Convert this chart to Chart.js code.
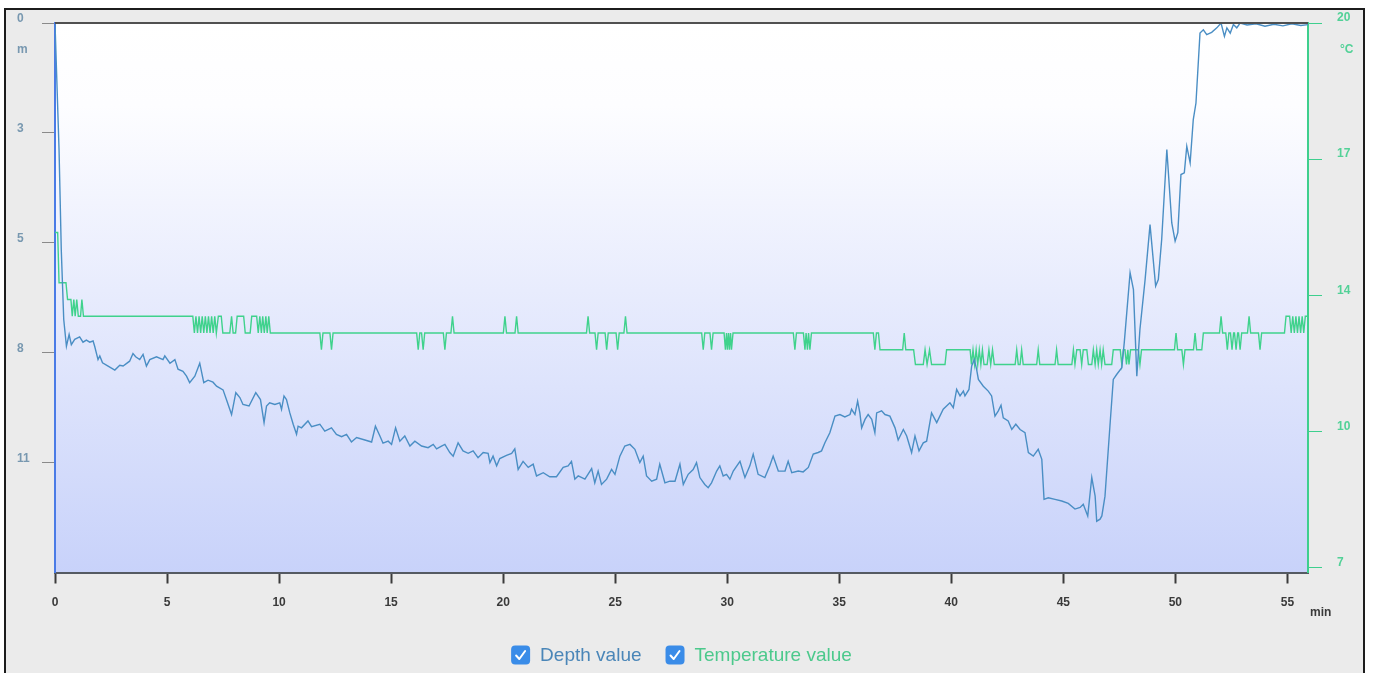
<!DOCTYPE html>
<html>
<head>
<meta charset="utf-8">
<title>Dive profile</title>
<script src="https://cdn.jsdelivr.net/npm/chart.js@4.4.1/dist/chart.umd.min.js"></script>
<style>
  html, body { margin: 0; padding: 0; background: #ffffff; width: 1375px; height: 673px; overflow: hidden; }
  #frame { position: absolute; left: 4px; top: 8px; width: 1357px; height: 700px; border: 2px solid #1c1c1c; background: #ebebeb; }
  #wrap { position: absolute; left: 0; top: 0; width: 1375px; height: 673px; }
</style>
</head>
<body>
<div id="frame"></div>
<div id="wrap"><canvas id="dive" width="1375" height="673"></canvas></div>
<script>
// Dive log: elapsed time (min) against depth (m) and water temperature (°C)
const depthMinutes = [
  0, 0.18, 0.28, 0.39, 0.51, 0.63, 0.73, 0.88, 1.10, 1.25,
  1.40, 1.55, 1.70, 1.77, 1.92, 2.00, 2.12, 2.37, 2.67, 2.89,
  3.04, 3.33, 3.48, 3.60, 3.78, 3.93, 4.08, 4.23, 4.53, 4.82,
  4.90, 5.13, 5.35, 5.49, 5.71, 5.87, 6.01, 6.24, 6.46, 6.64,
  6.83, 7.05, 7.21, 7.50, 7.65, 7.88, 8.07, 8.25, 8.39, 8.66,
  8.96, 9.17, 9.33, 9.44, 9.58, 9.81, 10.03, 10.11, 10.22, 10.33,
  10.48, 10.63, 10.78, 10.85, 11.00, 11.29, 11.45, 11.82, 12.04, 12.34,
  12.56, 12.79, 13.01, 13.23, 13.46, 13.83, 14.13, 14.30, 14.50, 14.64,
  14.87, 15.02, 15.20, 15.39, 15.61, 15.84, 16.06, 16.36, 16.65, 16.88,
  17.03, 17.25, 17.40, 17.62, 17.77, 17.99, 18.21, 18.44, 18.66, 18.88,
  19.11, 19.33, 19.41, 19.55, 19.71, 19.85, 20.15, 20.38, 20.52, 20.67,
  20.89, 21.12, 21.34, 21.49, 21.79, 22.08, 22.38, 22.68, 22.90, 23.05,
  23.20, 23.35, 23.65, 23.95, 24.09, 24.24, 24.39, 24.62, 24.84, 24.99,
  25.21, 25.43, 25.66, 25.88, 26.10, 26.25, 26.40, 26.63, 26.85, 26.99,
  27.22, 27.44, 27.67, 27.89, 28.04, 28.26, 28.48, 28.63, 28.78, 29.00,
  29.15, 29.30, 29.53, 29.67, 29.82, 29.97, 30.12, 30.27, 30.57, 30.79,
  31.01, 31.16, 31.38, 31.68, 31.90, 32.05, 32.28, 32.58, 32.72, 32.88,
  33.17, 33.39, 33.62, 33.84, 34.06, 34.21, 34.36, 34.58, 34.81, 35.03,
  35.25, 35.48, 35.55, 35.70, 35.82, 35.92, 36.00, 36.15, 36.29, 36.45,
  36.59, 36.67, 36.89, 37.04, 37.26, 37.49, 37.63, 37.86, 38.01, 38.23,
  38.38, 38.56, 38.75, 38.90, 39.12, 39.35, 39.64, 39.94, 40.09, 40.24,
  40.39, 40.54, 40.61, 40.79, 40.91, 41.03, 41.13, 41.21, 41.43, 41.65,
  41.80, 41.95, 42.10, 42.22, 42.32, 42.54, 42.70, 42.88, 43.07, 43.29,
  43.44, 43.66, 43.88, 44.04, 44.14, 44.33, 44.63, 44.93, 45.22, 45.52,
  45.75, 45.89, 46.09, 46.27, 46.42, 46.49, 46.64, 46.72, 46.86, 47.08,
  47.23, 47.38, 47.61, 47.72, 47.98, 48.13, 48.28, 48.42, 48.65, 48.87,
  49.12, 49.24, 49.39, 49.62, 49.84, 49.99, 50.11, 50.25, 50.40, 50.51,
  50.66, 50.80, 50.92, 51.10, 51.25, 51.40, 51.62, 51.85, 52.04, 52.19,
  52.30, 52.45, 52.59, 52.74, 52.89, 53.20, 53.60, 54.00, 54.40, 54.80,
  55.20, 55.60, 55.92
];
const depthMetres = [
  0, 3.13, 5.61, 7.34, 8.00, 7.71, 7.96, 7.83, 7.77, 7.90,
  7.85, 7.90, 7.87, 8.00, 8.33, 8.24, 8.41, 8.49, 8.59, 8.47,
  8.49, 8.37, 8.18, 8.26, 8.33, 8.20, 8.49, 8.33, 8.26, 8.33,
  8.24, 8.42, 8.33, 8.57, 8.62, 8.74, 8.90, 8.74, 8.42, 8.90,
  8.84, 8.89, 8.99, 9.08, 9.32, 9.69, 9.15, 9.27, 9.44, 9.48,
  9.15, 9.32, 9.89, 9.48, 9.40, 9.44, 9.40, 9.56, 9.23, 9.32,
  9.65, 9.93, 10.18, 9.98, 10.02, 9.85, 9.99, 9.93, 10.10, 10.02,
  10.18, 10.24, 10.18, 10.37, 10.26, 10.32, 10.37, 9.98, 10.22, 10.40,
  10.35, 10.43, 10.02, 10.35, 10.22, 10.47, 10.35, 10.47, 10.51, 10.43,
  10.54, 10.47, 10.43, 10.63, 10.72, 10.39, 10.59, 10.65, 10.59, 10.76,
  10.63, 10.65, 10.88, 10.72, 10.96, 10.78, 10.70, 10.65, 10.54, 11.05,
  10.85, 11.00, 10.92, 11.21, 11.13, 11.23, 11.23, 11.00, 10.96, 10.85,
  11.29, 11.21, 11.29, 11.03, 11.38, 11.09, 11.42, 11.29, 11.05, 11.17,
  10.72, 10.47, 10.43, 10.55, 10.88, 10.72, 11.21, 11.34, 11.29, 10.92,
  11.38, 11.34, 11.34, 10.92, 11.42, 11.17, 11.05, 10.88, 11.25, 11.42,
  11.50, 11.38, 11.09, 10.96, 11.21, 11.17, 11.29, 11.09, 10.85, 11.25,
  10.96, 10.67, 11.17, 11.25, 10.96, 10.72, 11.09, 11.09, 10.85, 11.13,
  11.09, 11.11, 11.00, 10.67, 10.63, 10.59, 10.39, 10.14, 9.73, 9.69,
  9.75, 9.69, 9.56, 9.69, 9.36, 9.65, 10.02, 9.81, 9.69, 9.81,
  10.14, 9.65, 9.60, 9.69, 9.73, 10.02, 10.32, 10.06, 10.22, 10.63,
  10.22, 10.59, 10.39, 10.35, 9.65, 9.89, 9.56, 9.40, 9.52, 9.07,
  9.23, 9.11, 9.23, 9.07, 8.49, 8.33, 8.57, 8.82, 8.99, 9.11,
  9.23, 9.73, 9.60, 9.46, 9.77, 9.85, 10.06, 9.93, 10.06, 10.14,
  10.63, 10.72, 10.55, 10.80, 11.79, 11.75, 11.79, 11.83, 11.89, 12.03,
  11.99, 11.91, 12.20, 11.25, 11.71, 12.33, 12.28, 12.20, 11.71, 9.98,
  8.82, 8.70, 8.53, 7.91, 6.18, 6.60, 8.74, 7.58, 6.35, 4.99,
  6.51, 6.35, 5.36, 3.13, 4.95, 5.40, 5.19, 3.75, 3.71, 3.05,
  3.46, 2.39, 1.98, 0.25, 0.17, 0.29, 0.23, 0.12, 0.00, 0.33,
  0.12, 0.25, 0.04, 0.12, 0.00, 0.05, 0.02, 0.08, 0.03, 0.07,
  0.02, 0.06, 0.04
];

const tempMinutes = [
  0, 0.12, 0.18, 0.49, 0.56, 0.71, 0.77, 0.84, 0.90, 0.97,
  1.04, 1.14, 1.20, 1.27, 6.15, 6.22, 6.29, 6.36, 6.43, 6.50,
  6.57, 6.64, 6.71, 6.78, 6.85, 6.92, 6.99, 7.06, 7.13, 7.20,
  7.29, 7.42, 7.49, 7.80, 7.88, 7.95, 8.06, 8.13, 8.42, 8.49,
  8.71, 8.78, 9.00, 9.07, 9.14, 9.21, 9.27, 9.34, 9.41, 9.47,
  9.54, 9.61, 11.82, 11.89, 11.96, 12.27, 12.34, 12.41, 16.14, 16.21,
  16.28, 16.36, 16.43, 16.50, 17.33, 17.40, 17.47, 17.67, 17.74, 17.81,
  20.01, 20.08, 20.15, 20.53, 20.60, 20.67, 23.72, 23.79, 23.86, 24.10,
  24.17, 24.24, 24.55, 24.62, 24.69, 25.04, 25.11, 25.18, 25.39, 25.46,
  25.53, 28.86, 28.93, 29.00, 29.23, 29.30, 29.37, 29.86, 29.92, 29.97,
  30.01, 30.06, 30.10, 30.15, 30.19, 30.26, 32.95, 33.02, 33.09, 33.40,
  33.47, 33.52, 33.58, 33.63, 33.69, 33.76, 36.52, 36.59, 36.66, 36.75,
  36.82, 37.83, 37.90, 37.97, 38.32, 38.40, 38.75, 38.83, 38.92, 39.03,
  39.12, 39.72, 39.79, 40.84, 40.90, 40.97, 41.04, 41.11, 41.18, 41.25,
  41.32, 41.39, 41.46, 41.60, 41.68, 41.76, 41.84, 41.92, 42.85, 42.92,
  42.99, 43.07, 43.14, 43.21, 43.81, 43.88, 43.95, 44.63, 44.70, 44.77,
  45.38, 45.45, 45.52, 45.60, 45.75, 45.82, 45.89, 46.05, 46.12, 46.27,
  46.34, 46.42, 46.49, 46.56, 46.64, 46.71, 46.78, 46.86, 47.16, 47.23,
  47.54, 47.61, 47.68, 47.75, 47.82, 47.88, 47.93, 48.00, 48.35, 48.42,
  48.49, 49.96, 50.03, 50.10, 50.29, 50.36, 50.43, 50.81, 50.88, 50.95,
  51.18, 51.25, 51.97, 52.04, 52.11, 52.25, 52.32, 52.39, 52.46, 52.53,
  52.60, 52.64, 52.71, 52.78, 52.82, 52.89, 52.96, 53.22, 53.29, 53.36,
  53.71, 53.78, 53.85, 54.87, 54.94, 55.10, 55.17, 55.24, 55.31, 55.38,
  55.45, 55.52, 55.59, 55.66, 55.73, 55.80, 55.92
];
const tempCelsius = [
  15.0, 15.0, 13.8, 13.8, 13.4, 13.4, 13.0, 13.4, 13.0, 13.4,
  13.0, 13.0, 13.4, 13.0, 13.0, 12.6, 13.0, 12.6, 13.0, 12.6,
  13.0, 12.6, 13.0, 12.6, 13.0, 12.6, 13.0, 12.6, 13.0, 12.6,
  13.0, 13.0, 12.6, 12.6, 13.0, 12.6, 12.6, 13.0, 13.0, 12.6,
  12.6, 13.0, 13.0, 12.6, 13.0, 12.6, 13.0, 12.6, 13.0, 12.6,
  13.0, 12.6, 12.6, 12.2, 12.6, 12.6, 12.2, 12.6, 12.6, 12.2,
  12.6, 12.6, 12.2, 12.6, 12.6, 12.2, 12.6, 12.6, 13.0, 12.6,
  12.6, 13.0, 12.6, 12.6, 13.0, 12.6, 12.6, 13.0, 12.6, 12.6,
  12.2, 12.6, 12.6, 12.2, 12.6, 12.6, 12.2, 12.6, 12.6, 13.0,
  12.6, 12.6, 12.2, 12.6, 12.6, 12.2, 12.6, 12.6, 12.2, 12.6,
  12.2, 12.6, 12.2, 12.6, 12.2, 12.6, 12.6, 12.2, 12.6, 12.6,
  12.2, 12.6, 12.2, 12.6, 12.2, 12.6, 12.6, 12.2, 12.6, 12.6,
  12.2, 12.2, 12.6, 12.2, 12.2, 11.85, 11.85, 12.2, 11.85, 12.2,
  11.85, 11.85, 12.2, 12.2, 11.85, 12.2, 11.85, 12.2, 11.85, 12.2,
  11.85, 12.2, 11.85, 11.85, 12.2, 11.85, 12.2, 11.85, 11.85, 12.2,
  11.85, 11.85, 12.2, 11.85, 11.85, 12.2, 11.85, 11.85, 12.2, 11.85,
  11.85, 12.2, 11.85, 12.2, 12.2, 11.85, 12.2, 12.2, 11.85, 11.85,
  12.2, 11.85, 12.2, 11.85, 12.2, 11.85, 12.2, 11.85, 11.85, 12.2,
  12.2, 11.85, 12.2, 12.2, 11.85, 12.2, 11.85, 12.2, 12.2, 11.85,
  12.2, 12.2, 12.6, 12.2, 12.2, 11.85, 12.2, 12.2, 12.6, 12.2,
  12.2, 12.6, 12.6, 13.0, 12.6, 12.6, 12.2, 12.6, 12.6, 12.2,
  12.6, 12.6, 12.2, 12.6, 12.6, 12.2, 12.6, 12.6, 13.0, 12.6,
  12.6, 12.2, 12.6, 12.6, 13.0, 13.0, 12.6, 13.0, 12.6, 13.0,
  12.6, 13.0, 12.6, 13.0, 12.6, 13.0, 13.0
];

// Axis ticks and their printed labels
const minuteTicks = [0, 5, 10, 15, 20, 25, 30, 35, 40, 45, 50, 55];
const depthTickValues = [0, 2.72, 5.44, 8.16, 10.88];
const depthTickLabels = ['0', '3', '5', '8', '11'];
const tempTickValues = [20, 16.75, 13.5, 10.25, 7];
const tempTickLabels = ['20', '17', '14', '10', '7'];
const seriesNames = ['Depth value', 'Temperature value'];
const unitNames = { depth: 'm', temp: '°C', time: 'min' };

const FONT = 'Liberation Sans, Arial, Helvetica, sans-serif';
const DEPTH_COLOR = '#4a8ec4';
const TEMP_COLOR = '#3fd28c';

Chart.defaults.font.family = FONT;

const toPoints = (xs, ys) => xs.map((x, i) => ({ x: x, y: ys[i] }));

// Plot background, top rule, unit captions and the check-box legend
const diveDecor = {
  id: 'diveDecor',
  beforeDraw(chart) {
    const { ctx, chartArea: a } = chart;
    const g = ctx.createLinearGradient(0, a.top, 0, a.bottom);
    g.addColorStop(0, '#ffffff');
    g.addColorStop(0.15, '#fdfdff');
    g.addColorStop(1, '#c8d2fa');
    ctx.save();
    ctx.fillStyle = g;
    ctx.fillRect(a.left, a.top, a.right - a.left, a.bottom - a.top);
    ctx.restore();
  },
  afterDraw(chart) {
    const { ctx, chartArea: a } = chart;
    ctx.save();
    // top rule of the plot frame
    ctx.strokeStyle = '#505050';
    ctx.lineWidth = 2;
    ctx.beginPath();
    ctx.moveTo(a.left, a.top);
    ctx.lineTo(a.right, a.top);
    ctx.stroke();

    // unit captions
    ctx.font = 'bold 12px ' + FONT;
    ctx.textBaseline = 'middle';
    ctx.textAlign = 'left';
    ctx.fillStyle = '#7898b0';
    ctx.fillText(unitNames.depth, 17, 50);
    ctx.fillStyle = '#52d197';
    ctx.fillText(unitNames.temp, 1340, 50);
    ctx.fillStyle = '#3a3a3a';
    ctx.fillText(unitNames.time, 1310, 613);

    // legend with ticked boxes
    const colors = [DEPTH_COLOR, TEMP_COLOR];
    const textColors = ['#4a86b8', '#4cc98c'];
    ctx.font = '19px ' + FONT;
    const box = 19, gap = 10, spacing = 24;
    const widths = seriesNames.map(n => ctx.measureText(n).width);
    const total = widths.reduce((s, w) => s + box + gap + w, 0) + spacing * (seriesNames.length - 1);
    let x = (a.left + a.right) / 2 - total / 2;
    const cy = 655;
    seriesNames.forEach((name, i) => {
      const by = cy - box / 2;
      ctx.fillStyle = '#3a8ce8';
      ctx.beginPath();
      ctx.roundRect(x, by, box, box, 4);
      ctx.fill();
      ctx.strokeStyle = '#ffffff';
      ctx.lineWidth = 2;
      ctx.lineCap = 'round';
      ctx.lineJoin = 'round';
      ctx.beginPath();
      ctx.moveTo(x + 5, by + 10);
      ctx.lineTo(x + 8.2, by + 13.5);
      ctx.lineTo(x + 14, by + 5.5);
      ctx.stroke();
      ctx.fillStyle = textColors[i];
      ctx.textAlign = 'left';
      ctx.textBaseline = 'middle';
      ctx.fillText(name, x + box + gap, cy + 1);
      x += box + gap + widths[i] + spacing;
    });
    ctx.restore();
  }
};

new Chart(document.getElementById('dive'), {
  type: 'line',
  data: {
    datasets: [
      {
        label: seriesNames[0],
        data: toPoints(depthMinutes, depthMetres),
        yAxisID: 'yDepth',
        borderColor: DEPTH_COLOR,
        borderWidth: 1.4,
        pointRadius: 0,
        tension: 0,
        fill: false
      },
      {
        label: seriesNames[1],
        data: toPoints(tempMinutes, tempCelsius),
        yAxisID: 'yTemp',
        borderColor: TEMP_COLOR,
        borderWidth: 1.4,
        pointRadius: 0,
        tension: 0,
        fill: false
      }
    ]
  },
  options: {
    responsive: false,
    animation: false,
    devicePixelRatio: 1,
    layout: { padding: { left: 17, right: 0, top: 23, bottom: 0 } },
    plugins: { legend: { display: false }, tooltip: { enabled: false } },
    scales: {
      x: {
        type: 'linear',
        position: 'bottom',
        min: 0,
        max: 55.92,
        afterBuildTicks: s => { s.ticks = minuteTicks.map(v => ({ value: v })); },
        afterFit: s => { s.height = 100.5; },
        border: { color: '#555a62', width: 2 },
        grid: { drawOnChartArea: false, drawTicks: true, tickLength: 11, tickWidth: 2, tickColor: '#3a3a3a' },
        ticks: {
          color: '#3a3a3a',
          font: { family: FONT, size: 12, weight: 'bold' },
          padding: 12,
          maxRotation: 0,
          autoSkip: false
        }
      },
      yDepth: {
        type: 'linear',
        position: 'left',
        reverse: true,
        min: 0,
        max: 13.6,
        afterBuildTicks: s => { s.ticks = depthTickValues.map(v => ({ value: v })); },
        afterFit: s => { s.width = 38; },
        border: { color: '#4a7be6', width: 2 },
        grid: { drawOnChartArea: false, drawTicks: true, tickLength: 13, tickWidth: 1, tickColor: '#8a8a8a' },
        ticks: {
          crossAlign: 'far',
          labelOffset: -4,
          color: '#7898b0',
          font: { family: FONT, size: 12, weight: 'bold' },
          autoSkip: false,
          callback: (v, i) => depthTickLabels[i]
        }
      },
      yTemp: {
        type: 'linear',
        position: 'right',
        min: 6.885,
        max: 20,
        afterBuildTicks: s => { s.ticks = tempTickValues.map(v => ({ value: v })); },
        afterFit: s => { s.width = 67; },
        border: { color: '#3ecf8e', width: 2 },
        grid: { drawOnChartArea: false, drawTicks: true, tickLength: 14, tickWidth: 1, tickColor: '#3ecf8e' },
        ticks: {
          padding: 15,
          labelOffset: -5,
          color: '#52d197',
          font: { family: FONT, size: 12, weight: 'bold' },
          autoSkip: false,
          callback: (v, i) => tempTickLabels[i]
        }
      }
    }
  },
  plugins: [diveDecor]
});
</script>
</body>
</html>
